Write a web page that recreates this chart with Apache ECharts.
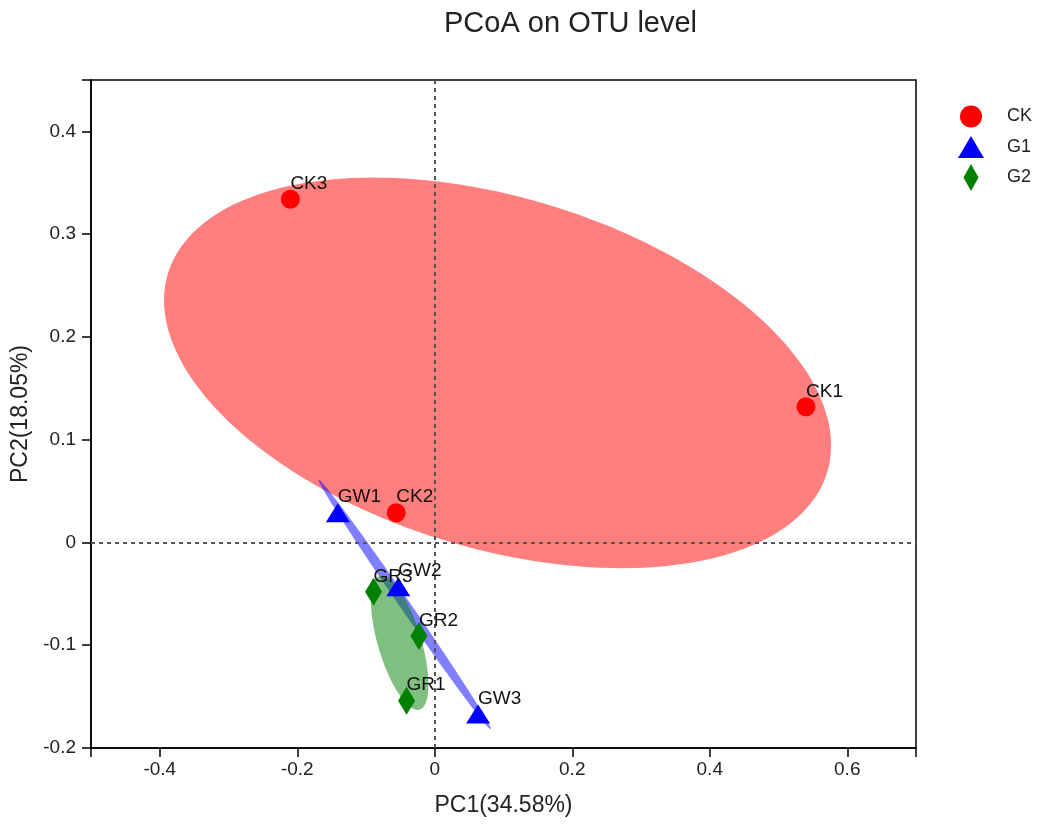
<!DOCTYPE html>
<html><head><meta charset="utf-8">
<script src="https://cdn.jsdelivr.net/npm/echarts@6/dist/echarts.min.js"></script>
<style>html,body{margin:0;padding:0;background:#fff}#c{width:1037px;height:826px}</style>
</head><body><div id="c"></div>
<script>
// ---- data ----
const groupNames = ['CK', 'G1', 'G2'];
const ckNames = ['CK1', 'CK2', 'CK3'];
const ckX = [0.540, -0.056, -0.210];
const ckY = [0.132, 0.029, 0.334];
const g1Names = ['GW1', 'GW2', 'GW3'];
const g1X = [-0.141, -0.053, 0.063];
const g1Y = [0.029, -0.043, -0.167];
const g2Names = ['GR1', 'GR2', 'GR3'];
const g2X = [-0.041, -0.023, -0.089];
const g2Y = [-0.154, -0.091, -0.048];
const xTickValues = [-0.5, -0.4, -0.2, 0, 0.2, 0.4, 0.6, 0.7];
const xLabelValues = [-0.4, -0.2, 0, 0.2, 0.4, 0.6];
const yTickValues = [-0.2, -0.1, 0, 0.1, 0.2, 0.3, 0.4, 0.45];
const yLabelValues = [-0.2, -0.1, 0, 0.1, 0.2, 0.3, 0.4];
const ELLIPSE_K = 1.5; // squared radius of the group ellipses (in covariance units)

const FONT = 'Liberation Sans, Arial, Helvetica, sans-serif';

function ellipsePoints(xs, ys, k) {
  const n = xs.length;
  const mx = xs.reduce((a, b) => a + b, 0) / n;
  const my = ys.reduce((a, b) => a + b, 0) / n;
  let sxx = 0, syy = 0, sxy = 0;
  for (let i = 0; i < n; i++) {
    const dx = xs[i] - mx, dy = ys[i] - my;
    sxx += dx * dx; syy += dy * dy; sxy += dx * dy;
  }
  sxx /= (n - 1); syy /= (n - 1); sxy /= (n - 1);
  const l11 = Math.sqrt(sxx), l21 = sxy / l11, l22 = Math.sqrt(Math.max(syy - l21 * l21, 0));
  const s = Math.sqrt(k);
  const pts = [];
  for (let i = 0; i < 180; i++) {
    const t = 2 * Math.PI * i / 180;
    const c = Math.cos(t), sn = Math.sin(t);
    pts.push([mx + s * l11 * c, my + s * (l21 * c + l22 * sn)]);
  }
  return { center: [mx, my], pts };
}

function ellipseSeries(name, xs, ys, fill) {
  const e = ellipsePoints(xs, ys, ELLIPSE_K);
  return {
    name: name, type: 'custom', silent: true, z: 1,
    data: [e.center],
    renderItem: function (params, api) {
      return {
        type: 'polygon',
        shape: { points: e.pts.map(p => api.coord(p)) },
        style: { fill: fill, stroke: null }
      };
    }
  };
}

function scatterSeries(name, xs, ys, labels, symbol, size, color) {
  return {
    name: name, type: 'scatter', z: 4,
    symbol: symbol, symbolSize: size,
    itemStyle: { color: color, opacity: 1 },
    data: xs.map((x, i) => [x, ys[i]]),
    label: {
      show: true, position: 'inside', align: 'left', verticalAlign: 'bottom',
      offset: [0, -6], fontSize: 19, color: '#111', fontFamily: FONT,
      formatter: p => labels[p.dataIndex]
    },
    emphasis: { disabled: true }
  };
}

const chart = echarts.init(document.getElementById('c'));
const axisStyle = { color: '#000', width: 1.5 };
const option = {
  animation: false,
  backgroundColor: '#fff',
  title: {
    text: 'PCoA on OTU level', left: 439, top: 4,
    textStyle: { fontSize: 29, fontWeight: 'normal', color: '#222', fontFamily: FONT }
  },
  legend: {
    orient: 'vertical', left: 953, top: 98,
    itemWidth: 26, itemHeight: 27, itemGap: 6,
    data: [
      { name: 'CK', icon: 'path://M0,0M26,27M2,13.5A11,11,0,1,1,24,13.5A11,11,0,1,1,2,13.5Z' },
      { name: 'G1', icon: 'path://M13,0L26,22L0,22Z' },
      { name: 'G2', icon: 'path://M7.5,0L15,13.5L7.5,27L0,13.5Z' }
    ],
    textStyle: { fontSize: 18, color: '#222', fontFamily: FONT, padding: [0, 0, 0, 18] },
    selectedMode: false
  },
  grid: {
    left: 91, right: 121, top: 80, bottom: 78,
    show: true, borderColor: '#000', borderWidth: 1.5,
    containLabel: false, outerBoundsMode: 'none'
  },
  xAxis: {
    type: 'value', min: -0.5, max: 0.7,
    name: 'PC1(34.58%)', nameLocation: 'middle', nameGap: 46,
    nameTextStyle: { fontSize: 23, color: '#222', fontFamily: FONT },
    splitLine: { show: false },
    axisLine: { onZero: false, lineStyle: axisStyle },
    axisTick: { show: true, length: 9, customValues: xTickValues, lineStyle: axisStyle },
    axisLabel: { customValues: xLabelValues, fontSize: 19, color: '#222', margin: 12, fontFamily: FONT }
  },
  yAxis: {
    type: 'value', min: -0.2, max: 0.45,
    name: 'PC2(18.05%)', nameLocation: 'middle', nameGap: 58,
    nameTextStyle: { fontSize: 23, color: '#222', fontFamily: FONT },
    splitLine: { show: false },
    axisLine: { onZero: false, lineStyle: axisStyle },
    axisTick: { show: true, length: 9, customValues: yTickValues, lineStyle: axisStyle },
    axisLabel: { customValues: yLabelValues, fontSize: 19, color: '#222', margin: 15, fontFamily: FONT }
  },
  series: [
    ellipseSeries('CK ellipse', ckX, ckY, 'rgba(255,0,0,0.5)'),
    ellipseSeries('G1 ellipse', g1X, g1Y, 'rgba(0,0,255,0.5)'),
    ellipseSeries('G2 ellipse', g2X, g2Y, 'rgba(0,128,0,0.5)'),
    Object.assign(scatterSeries(groupNames[0], ckX, ckY, ckNames, 'circle', 19, '#FF0000'), {
      markLine: {
        silent: true, symbol: ['none', 'none'], label: { show: false }, z: 3,
        lineStyle: { type: [4, 4], color: '#555', width: 2 },
        emphasis: { disabled: true },
        data: [{ xAxis: 0 }, { yAxis: 0 }]
      }
    }),
    scatterSeries(groupNames[1], g1X, g1Y, g1Names, 'triangle', [24, 19], '#0000FF'),
    scatterSeries(groupNames[2], g2X, g2Y, g2Names, 'diamond', [17, 28], '#008000')
  ]
};
chart.setOption(option);
</script>
</body></html>
